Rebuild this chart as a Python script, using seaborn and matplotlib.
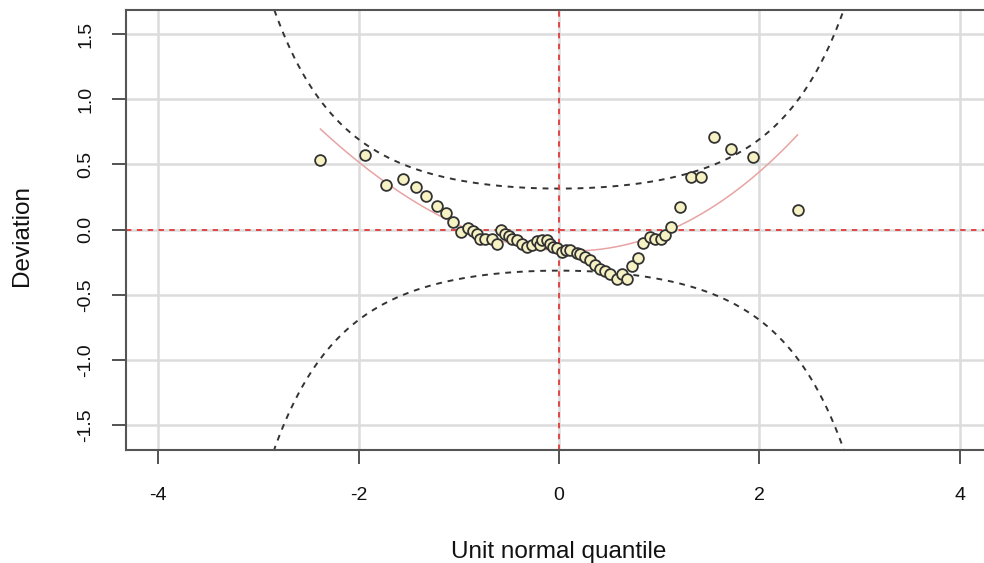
import numpy as np
import pandas as pd
import matplotlib
matplotlib.use("Agg")
import matplotlib.pyplot as plt
import seaborn as sns

# Data (worm plot)
quantile_x = [-2.38, -1.94, -1.73, -1.56, -1.43, -1.33, -1.22, -1.13, -1.06, -0.98,
              -0.91, -0.86, -0.82, -0.79, -0.74, -0.67, -0.62, -0.58, -0.54, -0.50,
              -0.47, -0.42, -0.37, -0.32, -0.27, -0.22, -0.19, -0.17, -0.12, -0.09,
              -0.06, -0.02, 0.03, 0.07, 0.11, 0.18, 0.21, 0.26, 0.31, 0.36,
              0.41, 0.46, 0.51, 0.58, 0.63, 0.68, 0.73, 0.79, 0.84, 0.91,
              0.96, 1.02, 1.06, 1.12, 1.21, 1.32, 1.42, 1.55, 1.72, 1.94, 2.38]
deviation = [0.53, 0.57, 0.34, 0.39, 0.33, 0.26, 0.18, 0.13, 0.06, -0.02,
             0.01, -0.01, -0.03, -0.075, -0.075, -0.075, -0.11, 0.00, -0.03, -0.05,
             -0.07, -0.08, -0.11, -0.13, -0.12, -0.09, -0.12, -0.08, -0.08, -0.11,
             -0.13, -0.14, -0.17, -0.16, -0.16, -0.18, -0.19, -0.21, -0.23, -0.27,
             -0.30, -0.32, -0.34, -0.38, -0.34, -0.375, -0.28, -0.22, -0.10, -0.06,
             -0.07, -0.07, -0.04, 0.02, 0.17, 0.40, 0.40, 0.71, 0.62, 0.56, 0.15]
x_ticks = [-4, -2, 0, 2, 4]
y_ticks = [-1.5, -1.0, -0.5, 0.0, 0.5, 1.0, 1.5]
conf_level = 0.95

df = pd.DataFrame({"x": quantile_x, "y": deviation})
n = len(df)

# cubic fit (as the worm plot does)
coef = np.polyfit(df["x"], df["y"], 3)
xf = np.linspace(min(quantile_x), max(quantile_x), 200)
fit_df = pd.DataFrame({"x": xf, "y": np.polyval(coef, xf)})

# confidence band from normal theory
from math import erf, sqrt, pi
zg = np.linspace(-4, 4, 801)
p = 0.5 * (1 + np.array([erf(v / sqrt(2)) for v in zg]))
dn = np.exp(-zg ** 2 / 2) / sqrt(2 * pi)
se = (1 / dn) * np.sqrt(p * (1 - p) / n)
zc = 1.959964
band_up = pd.DataFrame({"x": zg, "y": zc * se})
band_lo = pd.DataFrame({"x": zg, "y": -zc * se})

plt.rcParams["font.family"] = ["Liberation Sans", "DejaVu Sans"]
fig = plt.figure(figsize=(9.84, 5.63), dpi=100)
ax = fig.add_axes([126 / 984, 1 - 450 / 563, (992 - 126) / 984, 440 / 563])

for v in x_ticks:
    ax.axvline(v, color="#dcdcdc", lw=1.8, zorder=0)
for v in y_ticks:
    ax.axhline(v, color="#dcdcdc", lw=1.8, zorder=0)

sns.lineplot(data=band_up, x="x", y="y", ax=ax, color="#333333", lw=1.4,
             linestyle=(0, (3, 3)), sort=False, zorder=2)
sns.lineplot(data=band_lo, x="x", y="y", ax=ax, color="#333333", lw=1.4,
             linestyle=(0, (3, 3)), sort=False, zorder=2)
ax.axhline(0, color="#e03a3a", lw=1.3, linestyle=(0, (3, 3)), zorder=2)
ax.axvline(0, color="#e03a3a", lw=1.3, linestyle=(0, (3, 3)), zorder=2)
sns.lineplot(data=fit_df, x="x", y="y", ax=ax, color="#e8a3a3", lw=1.1, zorder=3)
sns.scatterplot(data=df, x="x", y="y", ax=ax, s=60, color="#f7f2c4",
                edgecolor="#333333", linewidth=1.3, zorder=4)

ax.set_xlim(-4.32, 4.32)
ax.set_ylim(-1.69, 1.684)
ax.set_xticks(x_ticks)
ax.set_xticklabels([str(t) for t in x_ticks])
ax.set_yticks(y_ticks)
ax.set_yticklabels([f"{t:.1f}" for t in y_ticks], rotation=90, va="center")
ax.tick_params(axis="both", direction="out", length=10, width=1.3, color="#444444",
               labelsize=14, labelcolor="#111111")
ax.tick_params(axis="x", pad=17)
ax.tick_params(axis="y", pad=13)
for s in ax.spines.values():
    s.set_color("#555555")
    s.set_linewidth(1.5)
ax.grid(False)
ax.set_facecolor("white")
ax.set_xlabel("Unit normal quantile", fontsize=17.5, color="#111111", va="center")
ax.set_ylabel("Deviation", fontsize=17.5, color="#111111", va="center")
ax.xaxis.set_label_coords((559 - 126) / 866, -(552 - 450) / 440)
ax.yaxis.set_label_coords(-(126 - 22) / 866, (450 - 236) / 440)

fig.savefig("out.png", dpi=100, facecolor="white")
